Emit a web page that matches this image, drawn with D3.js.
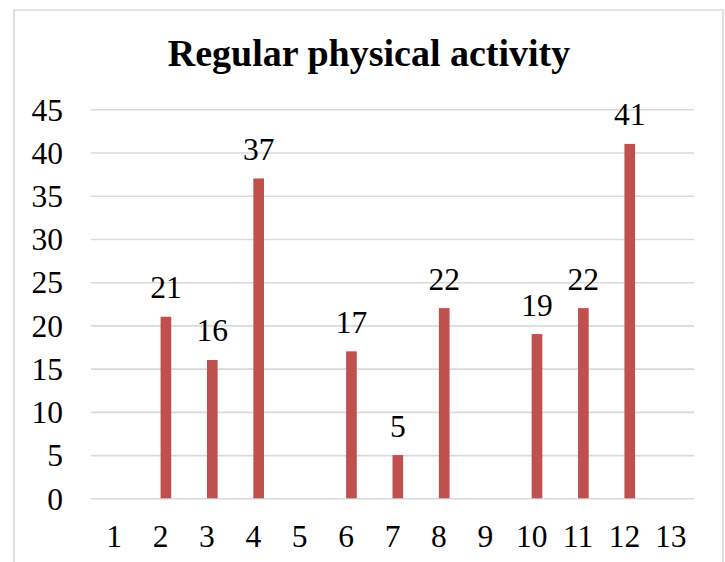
<!DOCTYPE html>
<html>
<head>
<meta charset="utf-8">
<script src="https://cdn.jsdelivr.net/npm/d3@7"></script>
<style>
  html, body { margin: 0; padding: 0; background: #ffffff; }
  svg { display: block; }
</style>
</head>
<body>
<div id="chart"></div>
<script>
// Survey responses per item
const categories = ["1","2","3","4","5","6","7","8","9","10","11","12","13"];
const values     = [0, 21, 16, 37, 0, 17, 5, 22, 0, 19, 22, 41, 0];
const yTicks     = [0, 5, 10, 15, 20, 25, 30, 35, 40, 45];
const chartTitle = "Regular physical activity";

const W = 725, H = 562;
const frame = { left: 14, top: 10, right: 723 };
const plot = { left: 91, right: 694, top: 109.3, bottom: 498.3 };
const serif = "'Liberation Serif', 'Times New Roman', Times, serif";
const barColor = "#C0504D";
const gridColor = "#d9d9d9";
const labelSize = 31.5;

const svg = d3.select("#chart").append("svg")
  .attr("width", W).attr("height", H);

svg.append("rect").attr("width", W).attr("height", H).attr("fill", "#fff");

// chart frame (open at the bottom edge of the page)
svg.append("path")
  .attr("d", `M${frame.left},${H + 2}V${frame.top}H${frame.right}V${H + 2}`)
  .attr("fill", "none")
  .attr("stroke", gridColor)
  .attr("stroke-width", 1.6);

svg.append("text")
  .attr("x", 369)
  .attr("y", 66)
  .attr("text-anchor", "middle")
  .attr("font-family", serif)
  .attr("font-weight", "bold")
  .attr("font-size", 38)
  .attr("fill", "#000")
  .text(chartTitle);

const x = d3.scaleBand().domain(categories).range([plot.left, plot.right]).padding(0);
const y = d3.scaleLinear().domain([0, 45]).range([plot.bottom, plot.top]);

// bar sits in the right half of each category slot
const barW = x.bandwidth() * 0.23;
const barX = c => x(c) + x.bandwidth() / 2;

// horizontal gridlines
svg.append("g")
  .attr("transform", `translate(${plot.left},0)`)
  .call(d3.axisLeft(y).tickValues(yTicks).tickSize(-(plot.right - plot.left)).tickFormat(""))
  .call(g => g.select(".domain").remove())
  .call(g => g.selectAll("line").attr("stroke", gridColor).attr("stroke-width", 1.6));

// y tick labels
svg.append("g")
  .attr("transform", `translate(63,0)`)
  .call(d3.axisLeft(y).tickValues(yTicks).tickSize(0).tickPadding(0))
  .call(g => g.select(".domain").remove())
  .call(g => g.selectAll("text")
    .attr("font-family", serif).attr("font-size", labelSize).attr("fill", "#000")
    .attr("dy", "0.34em"));

// bars
svg.append("g").selectAll("rect")
  .data(categories.map((c, i) => ({ c, v: values[i] })).filter(d => d.v > 0))
  .join("rect")
  .attr("x", d => barX(d.c))
  .attr("width", barW)
  .attr("y", d => y(d.v))
  .attr("height", d => y(0) - y(d.v))
  .attr("fill", barColor);

// value labels
svg.append("g").selectAll("text")
  .data(categories.map((c, i) => ({ c, v: values[i] })).filter(d => d.v > 0))
  .join("text")
  .attr("x", d => barX(d.c) + barW / 2)
  .attr("y", d => y(d.v) - 18.5)
  .attr("text-anchor", "middle")
  .attr("font-family", serif)
  .attr("font-size", labelSize)
  .attr("fill", "#000")
  .text(d => d.v);

// x category labels
svg.append("g")
  .attr("transform", `translate(0,547)`)
  .call(d3.axisBottom(x).tickSize(0).tickPadding(0))
  .call(g => g.select(".domain").remove())
  .call(g => g.selectAll("text")
    .attr("font-family", serif).attr("font-size", labelSize).attr("fill", "#000")
    .attr("dy", 0));
</script>
</body>
</html>
